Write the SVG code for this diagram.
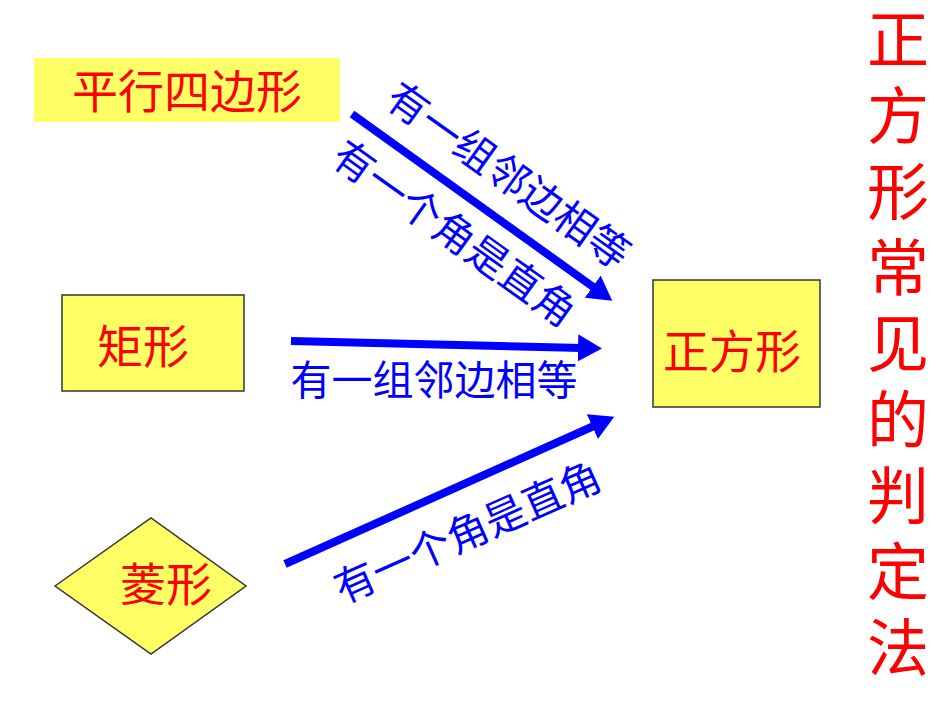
<svg xmlns="http://www.w3.org/2000/svg" width="950" height="713" viewBox="0 0 950 713">
<style>
.box{fill:#FFFF66;stroke:#333;stroke-width:1.5}
.nt{font-family:"Liberation Serif","Noto Sans CJK SC",serif;fill:#FF0000;text-anchor:middle;dominant-baseline:central}
.lbl{font-family:"Liberation Serif","Noto Sans CJK SC",serif;fill:#0000FF;font-size:41px;text-anchor:middle;dominant-baseline:central}
.arr{stroke:#0000FF;stroke-width:8;fill:none;marker-end:url(#ah)}
</style>
<defs>
<marker id="ah" markerWidth="4" markerHeight="4" refX="0.5" refY="2" orient="auto" markerUnits="strokeWidth">
<path d="M0,0.3 L3,2 L0,3.7 Z" fill="#0000FF"/>
</marker>
</defs>
<rect width="950" height="713" fill="#fff"/>
<g id="n-parallelogram">
<rect x="34" y="58" width="306" height="64" fill="#FFFF66"/>
<text class="nt" x="187" y="92" font-size="46">平行四边形</text>
</g>
<g id="n-rectangle">
<rect class="box" x="62" y="295" width="182" height="96"/>
<text class="nt" x="143" y="347" font-size="46">矩形</text>
</g>
<g id="n-rhombus">
<polygon class="box" points="55,586 151,518 246,586 151,654"/>
<text class="nt" x="166" y="585" font-size="46">菱形</text>
</g>
<g id="n-square">
<rect class="box" x="653" y="280" width="167" height="127"/>
<text class="nt" x="732" y="352" font-size="46">正方形</text>
</g>
<g id="title">
<text class="nt" font-size="62" x="898"><tspan x="898" y="42">正</tspan><tspan x="898" y="118">方</tspan><tspan x="898" y="194">形</tspan><tspan x="898" y="270">常</tspan><tspan x="898" y="346">见</tspan><tspan x="898" y="422">的</tspan><tspan x="898" y="498">判</tspan><tspan x="898" y="574">定</tspan><tspan x="898" y="650">法</tspan></text>
</g>
<g id="connectors">
<line class="arr" x1="352" y1="114" x2="596" y2="289"/>
<line class="arr" x1="291" y1="341" x2="582" y2="348"/>
<line class="arr" x1="285" y1="564" x2="596" y2="425"/>
<text class="lbl" transform="translate(508,176) rotate(35.5)">有一组邻边相等</text>
<text class="lbl" transform="translate(454,234) rotate(35.5)">有一个角是直角</text>
<text class="lbl" x="434" y="381">有一组邻边相等</text>
<text class="lbl" transform="translate(468,533) rotate(-24)">有一个角是直角</text>
</g>
</svg>
